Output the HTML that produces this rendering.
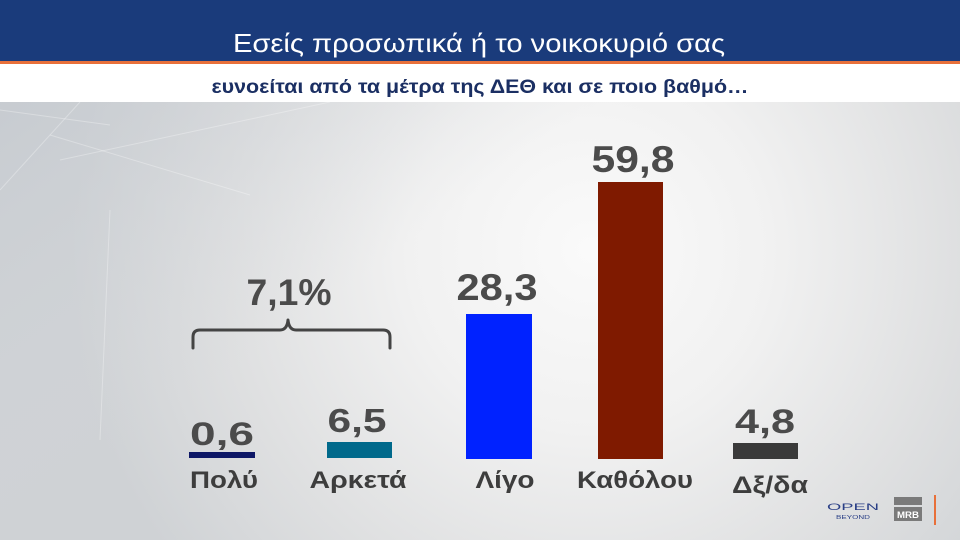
<!DOCTYPE html>
<html>
<head>
<meta charset="utf-8">
<style>
html,body{margin:0;padding:0;width:960px;height:540px;overflow:hidden;background:#e6e7e8;}
svg{display:block;}
text{font-family:"Liberation Sans","DejaVu Sans",sans-serif;}
</style>
</head>
<body>
<svg width="960" height="540" viewBox="0 0 960 540" xmlns="http://www.w3.org/2000/svg">
  <defs>
    <radialGradient id="bg" cx="590" cy="250" r="520" gradientUnits="userSpaceOnUse">
      <stop offset="0" stop-color="#fafafa"/>
      <stop offset="0.35" stop-color="#f1f1f1"/>
      <stop offset="0.7" stop-color="#dfe0e1"/>
      <stop offset="1" stop-color="#cfd2d5"/>
    </radialGradient>
    <linearGradient id="lt" x1="0" y1="0" x2="1" y2="1">
      <stop offset="0" stop-color="#c4c9cf" stop-opacity="0.7"/>
      <stop offset="0.5" stop-color="#d5d8dc" stop-opacity="0"/>
    </linearGradient>
  </defs>
  <rect x="0" y="102" width="960" height="438" fill="url(#bg)"/>
  <rect x="0" y="102" width="600" height="438" fill="url(#lt)"/>
  <!-- faint diagonal lines -->
  <g stroke="#ffffff" stroke-opacity="0.3" stroke-width="1" fill="none">
    <line x1="0" y1="190" x2="80" y2="102"/>
    <line x1="0" y1="110" x2="110" y2="125"/>
    <line x1="60" y1="160" x2="330" y2="102"/>
    <line x1="50" y1="135" x2="250" y2="195"/>
    <line x1="100" y1="440" x2="110" y2="210"/>
  </g>

  <!-- header -->
  <rect x="0" y="0" width="960" height="61" fill="#1a3b7b"/>
  <rect x="0" y="61" width="960" height="3" fill="#e8703a"/>
  <rect x="0" y="64" width="960" height="38" fill="#ffffff"/>
  <text x="479" y="52" text-anchor="middle" font-size="26" fill="#ffffff" textLength="492" lengthAdjust="spacingAndGlyphs">Εσείς προσωπικά ή το νοικοκυριό σας</text>
  <text x="480" y="93" text-anchor="middle" font-size="19" font-weight="bold" fill="#1b2f63" textLength="537" lengthAdjust="spacingAndGlyphs">ευνοείται από τα μέτρα της ΔΕΘ και σε ποιο βαθμό…</text>

  <!-- bars -->
  <rect x="189" y="452" width="66" height="6" fill="#0d1766"/>
  <rect x="327" y="442" width="65" height="16" fill="#00698b"/>
  <rect x="466" y="314" width="66" height="145" fill="#0022ff"/>
  <rect x="598" y="182" width="65" height="277" fill="#7f1a00"/>
  <rect x="733" y="443" width="65" height="16" fill="#3a3a3a"/>

  <!-- values -->
  <g font-weight="bold" fill="#4b4b4b" text-anchor="middle">
    <text x="222" y="445" font-size="32" textLength="64" lengthAdjust="spacingAndGlyphs">0,6</text>
    <text x="357" y="432" font-size="33" textLength="59" lengthAdjust="spacingAndGlyphs">6,5</text>
    <text x="497" y="300" font-size="37" textLength="81" lengthAdjust="spacingAndGlyphs">28,3</text>
    <text x="633" y="172" font-size="37" textLength="83" lengthAdjust="spacingAndGlyphs">59,8</text>
    <text x="765" y="433" font-size="34" textLength="60" lengthAdjust="spacingAndGlyphs">4,8</text>
    <text x="289" y="305" font-size="37" textLength="85" lengthAdjust="spacingAndGlyphs">7,1%</text>
  </g>

  <!-- brace -->
  <path d="M193,348 L193,337 Q193,330 200,330 L280,330 Q287,330 288,320 Q289,330 296,330 L383,330 Q390,330 390,337 L390,348" fill="none" stroke="#444444" stroke-width="3" stroke-linecap="round" stroke-linejoin="round"/>

  <!-- category labels -->
  <g font-weight="bold" fill="#3d3d3d" text-anchor="middle">
    <text x="224" y="488" font-size="24" textLength="68" lengthAdjust="spacingAndGlyphs">Πολύ</text>
    <text x="358" y="488" font-size="24" textLength="97" lengthAdjust="spacingAndGlyphs">Αρκετά</text>
    <text x="505" y="488" font-size="24" textLength="59" lengthAdjust="spacingAndGlyphs">Λίγο</text>
    <text x="635" y="488" font-size="24" textLength="116" lengthAdjust="spacingAndGlyphs">Καθόλου</text>
    <text x="770" y="493" font-size="24" textLength="76" lengthAdjust="spacingAndGlyphs">Δξ/δα</text>
  </g>

  <!-- logos -->
  <text x="853" y="510" text-anchor="middle" font-size="9" fill="#2a3f86" textLength="52" lengthAdjust="spacingAndGlyphs">OPEN</text>
  <text x="853" y="519" text-anchor="middle" font-size="5" fill="#2a3f86" textLength="34" lengthAdjust="spacingAndGlyphs">BEYOND</text>
  <rect x="894" y="497" width="28" height="8" fill="#7a7a7a"/>
  <rect x="894" y="507" width="28" height="14" fill="#7a7a7a"/>
  <text x="908" y="518" text-anchor="middle" font-size="9" font-weight="bold" fill="#ffffff" textLength="22" lengthAdjust="spacingAndGlyphs">MRB</text>
  <rect x="934" y="495" width="2" height="30" fill="#e8703a"/>
</svg>
</body>
</html>
